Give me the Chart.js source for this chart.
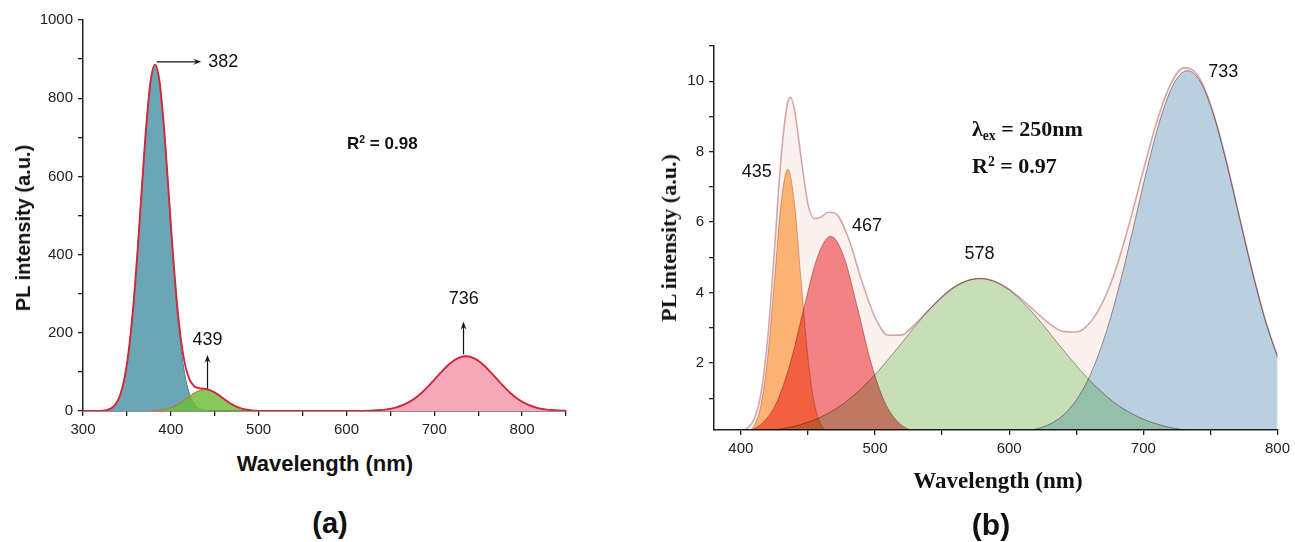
<!DOCTYPE html>
<html><head><meta charset="utf-8">
<script src="https://cdn.jsdelivr.net/npm/chart.js@4.4.1/dist/chart.umd.min.js"></script>
<style>
html,body{margin:0;padding:0;background:#fff;}
#wrap{position:relative;width:1295px;height:542px;overflow:hidden;background:#fff;}
canvas{position:absolute;}
.t{position:absolute;white-space:nowrap;color:#111;line-height:1;}
.arial{font-family:"Liberation Sans",Arial,sans-serif;}
.times{font-family:"Liberation Serif","Times New Roman",serif;}
.c{transform:translate(-50%,-50%);}
.l{transform:translateY(-50%);}
.r90{transform:translate(-50%,-50%) rotate(-90deg);}
sup{font-size:62%;vertical-align:0.55em;line-height:0;}
sub{font-size:62%;vertical-align:-0.3em;line-height:0;}
</style></head><body>
<div id="wrap">
<canvas id="ca" width="620" height="445" style="left:0;top:0;width:620px;height:445px"></canvas>
<canvas id="cb" width="655" height="470" style="left:640px;top:0;width:655px;height:470px"></canvas>

<div class="t arial r90" style="font-weight:bold;font-size:20px;left:23px;top:228px">PL intensity (a.u.)</div>
<div class="t arial c" style="font-weight:bold;font-size:22px;left:325px;top:464px">Wavelength (nm)</div>
<div class="t arial c" style="font-weight:bold;font-size:29px;left:330px;top:523px">(a)</div>
<div class="t arial l" style="font-weight:bold;font-size:17px;left:347px;top:143px">R<sup>2</sup> = 0.98</div>

<div class="t times r90" style="font-weight:bold;font-size:22px;left:669px;top:238px">PL intensity (a.u.)</div>
<div class="t times c" style="font-weight:bold;font-size:23px;left:998px;top:480px">Wavelength (nm)</div>
<div class="t arial c" style="font-weight:bold;font-size:30px;left:991px;top:525px">(b)</div>
<div class="t times l" style="font-weight:bold;font-size:22px;left:972px;top:129px">&lambda;<sub>ex</sub> = 250nm</div>
<div class="t times l" style="font-weight:bold;font-size:22px;left:972px;top:166px">R<sup>2</sup> = 0.97</div>
</div>
<script>
// ---------- Panel (a) data ----------
const wlA1 = [322,327,332,337,342,347,352,357,362,367,372,377,382,387,392,397,402,407,412,417,422,427,432,437,442];
const peakA382 = [0.8,2.4,6.7,17,39,81,153,261,405,570,728,843,885,843,728,570,405,261,153,81,39,17,6.7,2.4,0.8];
const wlA2 = [377,382,387,392,397,402,407,412,417,422,427,432,437,442,447,452,457,462,467,472,477,482,487,492,497,502];
const peakA439 = [0.5,0.9,1.9,3.5,6.1,9.9,15.3,22.1,30.0,38.3,45.9,51.7,54.7,54.4,50.8,44.5,36.7,28.4,20.6,14.1,9.0,5.5,3.1,1.6,0.8,0.4];
const wlA3 = [626,636,646,656,666,676,686,696,706,716,726,736,746,756,766,776,786,796,806,816,826,836,846];
const peakA736 = [0.7,1.9,4.2,8.8,16.8,29.5,47.5,70.1,94.9,117.8,134.1,140,134.1,117.8,94.9,70.1,47.5,29.5,16.8,8.8,4.2,1.9,0.7];
const wlAenv = [300,317,322,327,332,337,342,347,352,357,362,367,372,377,382,387,392,397,402,407,412,417,422,427,432,437,442,447,452,457,462,467,472,477,482,487,492,497,502,512,560,605,616,626,636,646,656,666,676,686,696,706,716,726,736,746,756,766,776,786,796,806,816,826,836,846,850];
const envA = [0,0.2,0.8,2.4,6.7,17,39,81,153,261,405,570,728,843.5,885.9,844.9,731.5,576.1,414.9,276.3,175.1,111.0,77.3,62.9,58.4,57.1,55.2,50.8,44.5,36.7,28.4,20.6,14.1,9.0,5.5,3.1,1.6,0.8,0.4,0.1,0,0,0.3,0.7,1.9,4.2,8.8,16.8,29.5,47.5,70.1,94.9,117.8,134.1,140,134.1,117.8,94.9,70.1,47.5,29.5,16.8,8.8,4.2,1.9,0.7,0.5];
const xTicksA = [300,350,400,450,500,550,600,650,700,750,800,850];
const xLabelsA = [300,400,500,600,700,800];
const yTicksA = [0,100,200,300,400,500,600,700,800,900,1000];
const yLabelsA = [0,200,400,600,800,1000];
const labelsA = [['382',459.8,893],['439',441.8,181.6],['736',733.5,286]];
const arrowsA = [[384.0,893,434.6,893],[441.8,58,441.8,143],[733.3,145,733.3,228]];

// ---------- Panel (b) data ----------
const wlB435 = [400,405,410,415,420,425,430,435,440,445,450,455,460,465,470];
const peakB435 = [0.01,0.05,0.23,0.82,2.16,4.31,6.53,7.5,6.53,4.31,2.16,0.82,0.23,0.05,0.01];
const wlB467 = [387,397,407,417,427,437,447,457,467,477,487,497,507,517,527,537,547];
const peakB467 = [0,0.02,0.09,0.33,0.91,2.02,3.56,5.00,5.6,5.00,3.56,2.02,0.91,0.33,0.09,0.02,0];
const wlB578 = [378,398,418,438,458,478,498,518,538,558,578,598,618,638,658,678,698,718,738,758,778];
const peakB578 = [0.01,0.03,0.07,0.19,0.44,0.89,1.59,2.48,3.41,4.13,4.4,4.13,3.41,2.48,1.59,0.89,0.44,0.19,0.07,0.03,0.01];
const wlB733 = [593,603,613,623,633,643,653,663,673,683,693,703,713,723,733,743,753,763,773,783,793,803];
const peakB733 = [0.01,0.03,0.07,0.16,0.32,0.62,1.12,1.89,2.96,4.33,5.92,7.54,8.97,9.95,10.3,9.95,8.97,7.54,5.92,4.33,2.96,1.89];
const wlBenv = [380,390,400,405,410,415,420,425,430,435,437,440,445,450,455,460,465,470,480,490,500,510,520,530,540,550,560,570,580,590,600,610,620,630,640,650,660,670,680,690,700,710,720,730,740,750,760,770,780,790,800];
const envB = [0.01,0.02,0.07,0.16,0.42,1.14,2.70,5.18,7.85,9.42,9.54,9.19,7.81,6.52,6.10,6.15,6.28,6.26,5.57,4.35,3.30,2.79,2.80,3.11,3.51,3.88,4.18,4.36,4.40,4.31,4.10,3.79,3.45,3.12,2.90,2.88,3.14,3.75,4.73,6.03,7.47,8.85,9.89,10.38,10.20,9.36,8.02,6.42,4.80,3.34,2.18];
const xTicksB = [400,450,500,550,600,650,700,750,800];
const xLabelsB = [400,500,600,700,800];
const yTicksB = [1,2,3,4,5,6,7,8,9,10,11];
const yLabelsB = [2,4,6,8,10];
const labelsB = [['435',411.8,7.41],['467',494,5.89],['578',577.9,5.1],['733',759.5,10.25]];

// ---------- helpers ----------
const pts = (xs, ys) => xs.map((x, i) => ({x: x, y: ys[i]}));
const TICKFONT = {family: '"Liberation Sans", Arial, sans-serif', size: 15};
function axis(min, max, tickList, labelList, extra) {
  return Object.assign({
    type: 'linear', min: min, max: max,
    afterBuildTicks: s => { s.ticks = tickList.map(v => ({value: v})); },
    ticks: {
      autoSkip: false, maxRotation: 0, minRotation: 0, padding: 5,
      color: '#222', font: TICKFONT,
      callback: v => labelList.includes(v) ? String(v) : ''
    },
    grid: {drawOnChartArea: false, drawTicks: true, tickLength: 5, color: '#222', lineWidth: 1.3},
    border: {display: true, color: '#222', width: 1.5}
  }, extra);
}
function annotPlugin(labels, arrows, font, blend) {
  return {
    id: 'annot',
    beforeDatasetsDraw(chart) {
      if (blend) { chart.ctx.save(); chart.ctx.globalCompositeOperation = 'multiply'; }
    },
    afterDatasetsDraw(chart) {
      const ctx = chart.ctx, xs = chart.scales.x, ys = chart.scales.y;
      if (blend) ctx.restore();
      ctx.save();
      ctx.fillStyle = '#111'; ctx.strokeStyle = '#111'; ctx.lineWidth = 1.2;
      arrows.forEach(a => {
        const x1 = xs.getPixelForValue(a[0]), y1 = ys.getPixelForValue(a[1]);
        const x2 = xs.getPixelForValue(a[2]), y2 = ys.getPixelForValue(a[3]);
        const ang = Math.atan2(y2 - y1, x2 - x1), L = 8, W = 3;
        ctx.beginPath(); ctx.moveTo(x1, y1);
        ctx.lineTo(x2 - Math.cos(ang) * L * 0.6, y2 - Math.sin(ang) * L * 0.6); ctx.stroke();
        ctx.beginPath(); ctx.moveTo(x2, y2);
        ctx.lineTo(x2 - Math.cos(ang) * L - Math.sin(ang) * W, y2 - Math.sin(ang) * L + Math.cos(ang) * W);
        ctx.lineTo(x2 - Math.cos(ang) * L * 0.6, y2 - Math.sin(ang) * L * 0.6);
        ctx.lineTo(x2 - Math.cos(ang) * L + Math.sin(ang) * W, y2 - Math.sin(ang) * L - Math.cos(ang) * W);
        ctx.closePath(); ctx.fill();
      });
      ctx.font = font; ctx.textAlign = 'center'; ctx.textBaseline = 'middle';
      labels.forEach(l => ctx.fillText(l[0], xs.getPixelForValue(l[1]), ys.getPixelForValue(l[2])));
      ctx.restore();
    }
  };
}
const lineBase = {pointRadius: 0, cubicInterpolationMode: 'monotone', fill: 'origin'};

// ---------- Panel (a) ----------
new Chart(document.getElementById('ca'), {
  type: 'line',
  data: {datasets: [
    Object.assign({}, lineBase, {label: 'Envelope', data: pts(wlAenv, envA), fill: false, borderColor: '#d1283e', borderWidth: 1.9, order: 0}),
    Object.assign({}, lineBase, {label: '736', data: pts(wlA3, peakA736), backgroundColor: '#f5a9b8', borderColor: '#c9243c', borderWidth: 1, order: 1}),
    Object.assign({}, lineBase, {label: '439', data: pts(wlA2, peakA439), backgroundColor: 'rgba(108,190,56,0.82)', borderColor: '#c47a2a', borderWidth: 1.1, order: 2}),
    Object.assign({}, lineBase, {label: '382', data: pts(wlA1, peakA382), backgroundColor: '#6aa6b4', borderColor: '#4d8593', borderWidth: 1, order: 3})
  ]},
  options: {
    responsive: false, animation: false, events: [],
    layout: {padding: {left: 0, right: 54, top: 20, bottom: 0}},
    plugins: {legend: {display: false}, tooltip: {enabled: false}},
    scales: {
      x: axis(300, 850, xTicksA, xLabelsA, {afterFit: s => { s.height = 34; }}),
      y: axis(0, 1000, yTicksA, yLabelsA, {afterFit: s => { s.width = 83; }})
    }
  },
  plugins: [annotPlugin(labelsA, arrowsA, '18px "Liberation Sans", Arial, sans-serif', false)]
});

// ---------- Panel (b) ----------
new Chart(document.getElementById('cb'), {
  type: 'line',
  data: {datasets: [
    Object.assign({}, lineBase, {label: 'Envelope line', data: pts(wlBenv, envB), fill: false, borderColor: '#d4adb0', borderWidth: 1.6, order: 0}),
    Object.assign({}, lineBase, {label: '733', data: pts(wlB733, peakB733), backgroundColor: '#bcdcf0', borderColor: 'rgba(150,115,115,0.75)', borderWidth: 1, order: 1}),
    Object.assign({}, lineBase, {label: '578', data: pts(wlB578, peakB578), backgroundColor: '#c9ebc3', borderColor: 'rgba(150,115,115,0.75)', borderWidth: 1, order: 2}),
    Object.assign({}, lineBase, {label: '467', data: pts(wlB467, peakB467), backgroundColor: '#f48a8c', borderColor: 'rgba(170,120,120,0.7)', borderWidth: 1, order: 3}),
    Object.assign({}, lineBase, {label: '435', data: pts(wlB435, peakB435), backgroundColor: '#febd7a', borderColor: 'rgba(190,150,130,0.7)', borderWidth: 1, order: 4}),
    Object.assign({}, lineBase, {label: 'Envelope fill', data: pts(wlBenv, envB), backgroundColor: '#fdf1ee', borderColor: 'rgba(0,0,0,0)', borderWidth: 0, order: 5})
  ]},
  options: {
    responsive: false, animation: false, events: [],
    layout: {padding: {left: 0, right: 13, top: 46, bottom: 0}},
    plugins: {legend: {display: false}, tooltip: {enabled: false}},
    scales: {
      x: axis(380, 800, xTicksB, xLabelsB, {afterFit: s => { s.height = 40; }}),
      y: axis(0.1, 11, yTicksB, yLabelsB, {afterFit: s => { s.width = 74; }})
    }
  },
  plugins: [annotPlugin(labelsB, [], '18px "Liberation Sans", Arial, sans-serif', true)]
});
</script>
</body></html>
